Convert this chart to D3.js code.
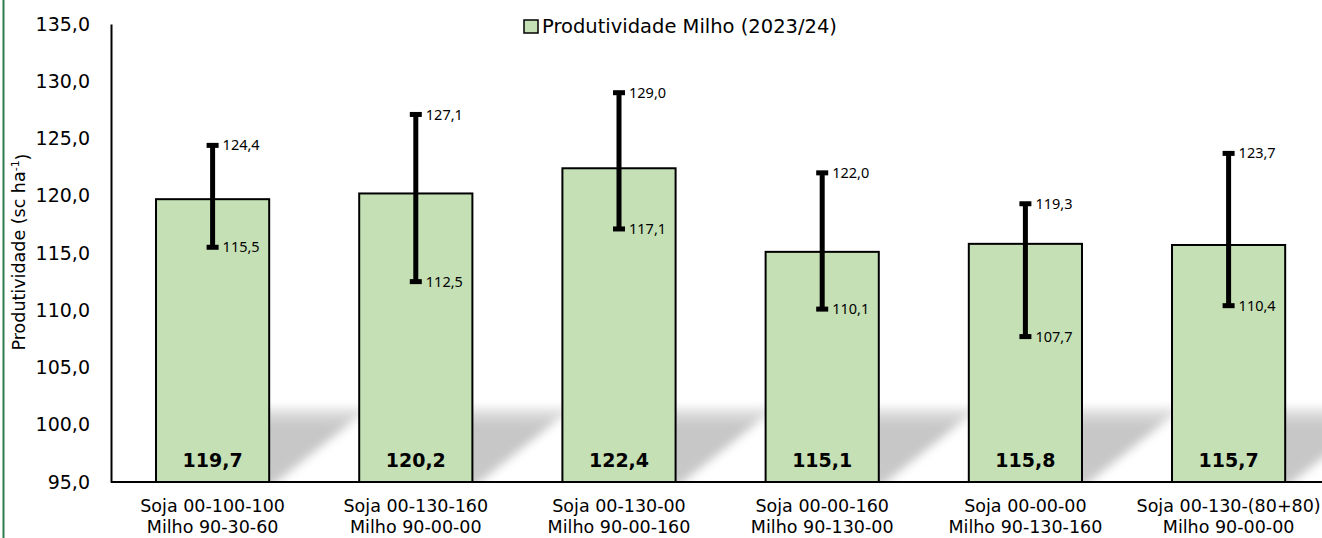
<!DOCTYPE html>
<html>
<head>
<meta charset="utf-8">
<script src="https://cdn.jsdelivr.net/npm/d3@7"></script>
<style>
  html, body { margin: 0; padding: 0; background: #fff; }
  svg { display: block; }
</style>
</head>
<body>
<svg id="chart" width="1322" height="538"></svg>
<script>
// ---- data ----
const categoriesLine1 = ["Soja 00-100-100", "Soja 00-130-160", "Soja 00-130-00", "Soja 00-00-160", "Soja 00-00-00", "Soja 00-130-(80+80)"];
const categoriesLine2 = ["Milho 90-30-60", "Milho 90-00-00", "Milho 90-00-160", "Milho 90-130-00", "Milho 90-130-160", "Milho 90-00-00"];
const values = [119.7, 120.2, 122.4, 115.1, 115.8, 115.7];
const upperValues = [124.4, 127.1, 129.0, 122.0, 119.3, 123.7];
const lowerValues = [115.5, 112.5, 117.1, 110.1, 107.7, 110.4];
const yTicks = [95, 100, 105, 110, 115, 120, 125, 130, 135];
const seriesName = "Produtividade Milho (2023/24)";

const fmt = v => v.toFixed(1).replace(".", ",");

const svg = d3.select("#chart");
const W = 1322, H = 538;
const plotLeft = 111, plotBase = 482, plotTop = 24;
const step = 203.2;
const plotRight = plotLeft + step * categoriesLine1.length;
const barFill = "#C5E0B4";
const mainFont = "'DejaVu Sans', 'Noto Sans', sans-serif";
const labelFont = "'Noto Sans', 'Liberation Sans', sans-serif";

const x = d3.scaleBand()
  .domain(d3.range(values.length))
  .range([plotLeft, plotRight])
  .paddingInner(0.443)
  .paddingOuter(0.443 / 2);

const y = d3.scaleLinear().domain([95, 135]).range([plotBase, plotTop]);

// outer green border (left edge visible)
svg.append("line")
  .attr("x1", 3.5).attr("x2", 3.5).attr("y1", 0).attr("y2", H)
  .attr("stroke", "#2E7D4F").attr("stroke-width", 2);

// defs: blur + clip + gradient
const defs = svg.append("defs");
defs.append("filter").attr("id", "blur")
  .attr("filterUnits", "userSpaceOnUse")
  .attr("x", 0).attr("y", 0).attr("width", W + 200).attr("height", H)
  .append("feGaussianBlur").attr("stdDeviation", 5);
defs.append("clipPath").attr("id", "plotClip")
  .append("rect").attr("x", plotLeft + 1).attr("y", 0).attr("width", W).attr("height", plotBase);
const shH = 74, shDx = 100;
const grad = defs.append("linearGradient").attr("id", "shGrad")
  .attr("gradientUnits", "userSpaceOnUse")
  .attr("x1", 0).attr("x2", 0).attr("y1", plotBase - shH).attr("y2", plotBase);
grad.append("stop").attr("offset", "0%").attr("stop-color", "#e6e6e6");
grad.append("stop").attr("offset", "25%").attr("stop-color", "#c6c6c6");
grad.append("stop").attr("offset", "100%").attr("stop-color", "#c8c8c8");

// shadows (perspective, cast up-right)
svg.append("g").attr("clip-path", "url(#plotClip)")
  .append("g").attr("filter", "url(#blur)")
  .selectAll("path").data(values).join("path")
  .attr("d", (d, i) => {
    const x0 = x(i), x1 = x(i) + x.bandwidth();
    return `M${x0},${plotBase + 6} L${x1},${plotBase + 6} L${x1 + shDx},${plotBase - shH} L${x0 + shDx},${plotBase - shH} Z`;
  })
  .attr("fill", "url(#shGrad)");

// bars
svg.append("g").selectAll("rect").data(values).join("rect")
  .attr("x", (d, i) => x(i))
  .attr("y", d => y(d))
  .attr("width", x.bandwidth())
  .attr("height", d => plotBase - y(d))
  .attr("fill", barFill)
  .attr("stroke", "#000")
  .attr("stroke-width", 2);

// axes
const yAxis = d3.axisLeft(y).tickValues(yTicks).tickSize(0).tickPadding(21).tickFormat(fmt);
const gy = svg.append("g").attr("transform", `translate(${plotLeft},0)`).call(yAxis);
gy.select(".domain").attr("stroke", "#000").attr("stroke-width", 2);
gy.selectAll("text").attr("font-family", mainFont).attr("font-size", 19).attr("fill", "#000");

svg.append("line")
  .attr("x1", plotLeft).attr("x2", W).attr("y1", plotBase).attr("y2", plotBase)
  .attr("stroke", "#000").attr("stroke-width", 2);

// x labels
const xl = svg.append("g");
xl.selectAll("text.l1").data(categoriesLine1).join("text")
  .attr("class", "l1")
  .attr("x", (d, i) => x(i) + x.bandwidth() / 2)
  .attr("y", 506)
  .attr("dy", "0.35em")
  .attr("text-anchor", "middle")
  .attr("font-family", mainFont).attr("font-size", 17.5)
  .text(d => d);
xl.selectAll("text.l2").data(categoriesLine2).join("text")
  .attr("class", "l2")
  .attr("x", (d, i) => x(i) + x.bandwidth() / 2)
  .attr("y", 527)
  .attr("dy", "0.35em")
  .attr("text-anchor", "middle")
  .attr("font-family", mainFont).attr("font-size", 17.5)
  .text(d => d);

// error bars
const eb = svg.append("g");
values.forEach((v, i) => {
  const cx = x(i) + x.bandwidth() / 2;
  eb.append("line")
    .attr("x1", cx).attr("x2", cx)
    .attr("y1", y(upperValues[i])).attr("y2", y(lowerValues[i]))
    .attr("stroke", "#000").attr("stroke-width", 5);
  [upperValues[i], lowerValues[i]].forEach(e => {
    eb.append("rect")
      .attr("x", cx - 6).attr("y", y(e) - 2.5)
      .attr("width", 12).attr("height", 5)
      .attr("fill", "#000");
    eb.append("text")
      .attr("x", cx + 10).attr("y", y(e))
      .attr("dy", "0.35em")
      .attr("font-family", labelFont)
      .attr("font-size", 14.5)
      .attr("fill", "#000")
      .text(fmt(e));
  });
});

// value labels inside bars
svg.append("g").selectAll("text").data(values).join("text")
  .attr("x", (d, i) => x(i) + x.bandwidth() / 2)
  .attr("y", 460)
  .attr("dy", "0.35em")
  .attr("text-anchor", "middle")
  .attr("font-family", mainFont)
  .attr("font-weight", "bold")
  .attr("font-size", 19)
  .attr("fill", "#000")
  .text(d => fmt(d));

// legend
const lg = svg.append("g");
lg.append("rect").attr("x", 524).attr("y", 20).attr("width", 14).attr("height", 13)
  .attr("fill", barFill).attr("stroke", "#000").attr("stroke-width", 1.5);
lg.append("text").attr("x", 542).attr("y", 26.5).attr("dy", "0.35em")
  .attr("font-family", mainFont).attr("font-size", 19.5).attr("fill", "#000")
  .text(seriesName);

// y axis title
const yt = svg.append("text")
  .attr("transform", `translate(19,252) rotate(-90)`)
  .attr("text-anchor", "middle")
  .attr("dy", "0.35em")
  .attr("font-family", mainFont).attr("font-size", 17.5).attr("fill", "#000");
yt.append("tspan").text("Produtividade (sc ha");
yt.append("tspan").attr("font-size", 11).attr("dy", "-0.6em").text("-1");
yt.append("tspan").attr("dy", "0.6em").text(")");
</script>
</body>
</html>
